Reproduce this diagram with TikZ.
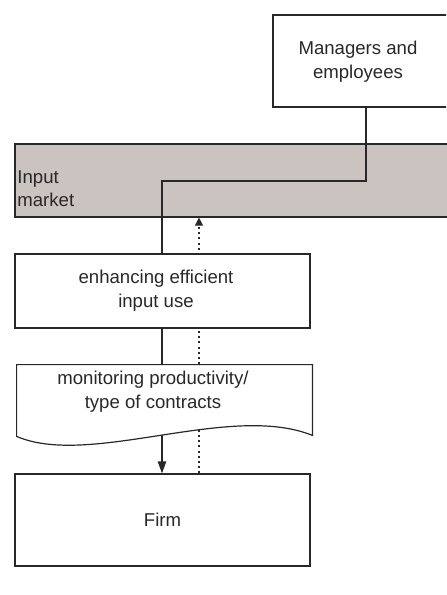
\documentclass[tikz,border=0pt]{standalone}
\usepackage{fontspec}
\setmainfont{Liberation Sans}
\usetikzlibrary{arrows.meta}
\pgfdeclarelayer{bandlayer}
\pgfdeclarelayer{linklayer}
\pgfsetlayers{bandlayer,linklayer,main}
\definecolor{bandgray}{RGB}{202,195,192}
\definecolor{ink}{RGB}{40,40,40}
\begin{document}
\begin{tikzpicture}[x=0.5pt,y=-0.5pt,
  every node/.style={font=\fontsize{9.3}{12}\selectfont, text=ink},
  box/.style={draw=ink, line width=0.6pt, fill=white, rectangle, inner sep=0pt},
  thickbox/.style={box, line width=1.3pt},
  link/.style={draw=ink, line width=0.6pt},
  solidarrow/.style={link, -{Triangle[length=6pt,width=4.2pt]}},
  dotarrow/.style={link, dash pattern=on 1pt off 1.6pt, -{Triangle[length=4pt,width=4pt]}}]

\useasboundingbox (0,0) rectangle (446,595);
\clip (0,0) rectangle (446,595);

% boxes
\node[box, minimum width=88.5pt, minimum height=46pt] (mgr) at (361.5,61) {};
\node[align=center] (mgrtext) at (358,62) {Managers and\\employees};

\node[thickbox, minimum width=147.5pt, minimum height=37pt] (eff) at (162.5,291) {};
\node[align=center] (efftext) at (156,291) {enhancing efficient\\input use};

\node[minimum width=147.5pt, minimum height=35.5pt, inner sep=0pt] (doc) at (164.5,400.5) {};
\fill[white, draw=ink, line width=0.6pt]
  (doc.south west) -- (doc.north west) -- (doc.north east) -- ([yshift=0.5pt]doc.south east)
  .. controls (230,402) and (90,468) .. (doc.south west) -- cycle;
\node[align=center] (doctext) at (153,392) {monitoring productivity/\\type of contracts};

\node[box, minimum width=147.5pt, minimum height=46pt] (firm) at (162.5,520) {Firm};

% input market band
\begin{pgfonlayer}{bandlayer}
  \node[draw=ink, line width=0.6pt, fill=bandgray, minimum width=217.5pt, minimum height=36.5pt, inner sep=0pt] (band) at (232.5,180.5) {};
\end{pgfonlayer}
\node[align=left, anchor=west, inner sep=0pt, font=\fontsize{9.3}{11.5}\selectfont] (bandtext) at (17,189) {Input\\market};

% connectors
\coordinate (bend1) at (366,181);
\coordinate (bend2) at (162,181);
\begin{pgfonlayer}{linklayer}
  \draw[link] (mgr.south -| bend1) -- (bend1) -- (bend2) -- (eff.north -| bend2);
  \draw[link] (eff.south -| bend2) -- (doc.north -| bend2);
  \draw[solidarrow] (doc.north -| bend2) -- (firm.north -| bend2);
  \coordinate (dotx) at (199,0);
  \draw[dotarrow] (firm.north -| dotx) -- (band.south -| dotx);
\end{pgfonlayer}
\end{tikzpicture}
\end{document}
